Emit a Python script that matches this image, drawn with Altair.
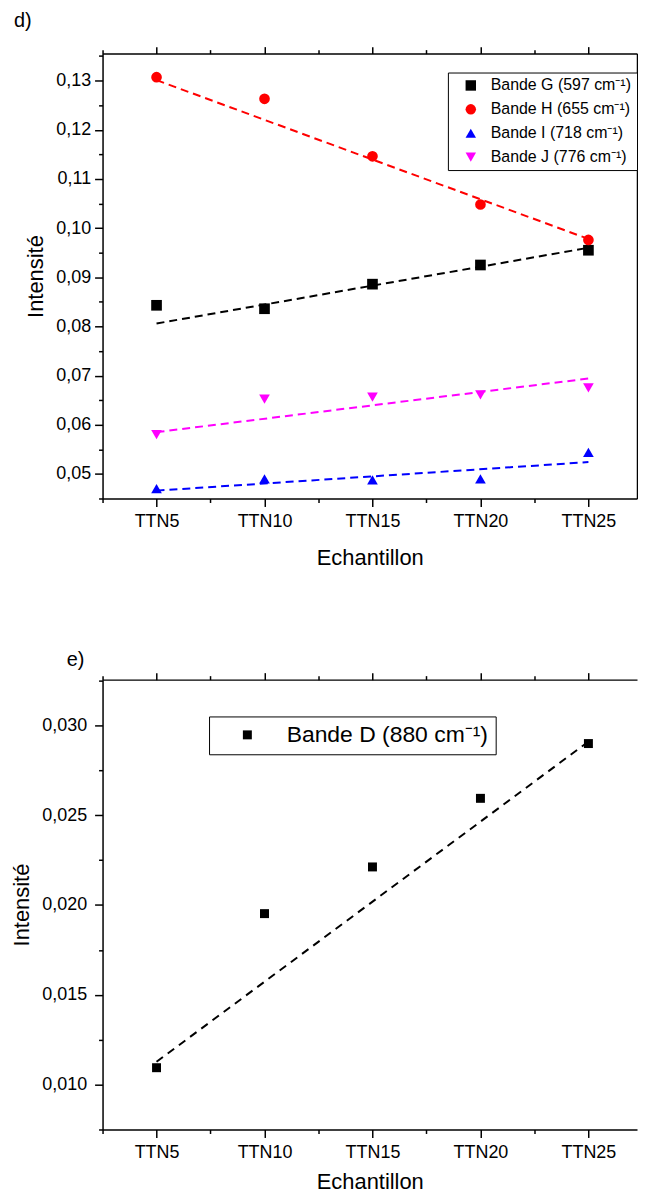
import altair as alt
import pandas as pd

# ---------------- data ----------------
samples = ["TTN5", "TTN10", "TTN15", "TTN20", "TTN25"]

series_top = ["Bande G (597 cm\u207b\u00b9)", "Bande H (655 cm\u207b\u00b9)",
              "Bande I (718 cm\u207b\u00b9)", "Bande J (776 cm\u207b\u00b9)"]
band_g = [0.0843, 0.0836, 0.0886, 0.0925, 0.0955]
band_h = [0.1307, 0.1263, 0.1146, 0.1048, 0.0976]
band_i = [0.0470, 0.0490, 0.0488, 0.0490, 0.0544]
band_j = [0.0580, 0.0652, 0.0656, 0.0661, 0.0675]
fit_top_start = [0.0806, 0.1301, 0.0466, 0.0585]
fit_top_end = [0.0960, 0.0978, 0.0524, 0.0694]

series_bottom = ["Bande D (880 cm\u207b\u00b9)"]
band_d = [0.01094, 0.01952, 0.02212, 0.02594, 0.02899]
fit_bottom_start = [0.01127]
fit_bottom_end = [0.0291]

colors_top = ["#000000", "#ff0000", "#0000ff", "#ff00ff"]
shapes_top = ["square", "circle", "triangle-up", "triangle-down"]

FONT = "Liberation Sans"

# ---------------- tables ----------------
xpos = list(range(1, len(samples) + 1))
top_vals = [band_g, band_h, band_i, band_j]
pts_top = pd.DataFrame([
    {"series": s, "x": xpos[i], "sample": samples[i], "y": vals[i]}
    for s, vals in zip(series_top, top_vals) for i in range(len(samples))
])
pts_bot = pd.DataFrame([
    {"series": series_bottom[0], "x": xpos[i], "sample": samples[i], "y": band_d[i]}
    for i in range(len(samples))
])


def fit_table(start, end):
    return pd.DataFrame([{"x": xpos[0], "y": start}, {"x": xpos[-1], "y": end}])


# ---------------- axes helpers ----------------
x_ticks = [0.5 + 0.5 * k for k in range(10)]
x_is_major = "datum.value % 1 == 0"
x_label_expr = ("datum.value % 1 == 0 ? " + str(["x"] + samples) + "[datum.value] : ''")
x_scale = alt.Scale(domain=[0.5, 5.45], nice=False, zero=False)


def tick_cond(test, major, minor):
    return {"condition": {"test": test, "value": major}, "value": minor}


def x_bottom_axis(title, label_pad, title_pad):
    return alt.Axis(values=x_ticks, labelExpr=x_label_expr, title=title,
                    tickSize=tick_cond(x_is_major, 8, 4), labelPadding=label_pad,
                    titlePadding=title_pad, orient="bottom", labelFlush=False)


def x_top_axis():
    return alt.Axis(values=x_ticks, labels=False, title=None, orient="top",
                    tickSize=tick_cond(x_is_major, 7, 4))


# ---- top chart (d) ----
y_top_ticks = [round(0.045 + 0.005 * k, 4) for k in range(19)]
y_top_major = "abs(datum.value*100 - round(datum.value*100)) < 0.000001"
y_top_scale = alt.Scale(domain=[0.045, 0.1355], nice=False, zero=False)

top_points = alt.Chart(pts_top).mark_point(filled=True, opacity=1, strokeWidth=0, size=115).encode(
    x=alt.X("x:Q", scale=x_scale, axis=x_bottom_axis("Echantillon", 6, 17)),
    y=alt.Y("y:Q", scale=y_top_scale,
            axis=alt.Axis(values=y_top_ticks, title="Intensité", orient="left",
                          labelExpr=y_top_major + " ? replace(format(datum.value, '.2f'), '.', ',') : ''",
                          tickSize=tick_cond(y_top_major, 8, 4), labelPadding=4,
                          titlePadding=8)),
    color=alt.Color("series:N", scale=alt.Scale(domain=series_top, range=colors_top),
                    legend=alt.Legend(title=None, orient="none", legendX=347, legendY=19,
                                      strokeColor="black", fillColor="white", padding=5,
                                      rowPadding=8, symbolSize=110, labelFontSize=16,
                                      labelFont=FONT, symbolOffset=10, labelOffset=12,
                                      symbolStrokeWidth=0, labelColor="black",
                                      labelLimit=400)),
    shape=alt.Shape("series:N", scale=alt.Scale(domain=series_top, range=shapes_top)),
)

top_line_layers = []
for k, (a, b, c) in enumerate(zip(fit_top_start, fit_top_end, colors_top)):
    first = k == 0
    top_line_layers.append(
        alt.Chart(fit_table(a, b)).mark_line(strokeDash=[8, 5], strokeWidth=2, color=c).encode(
            x=alt.X("x:Q", scale=x_scale, axis=x_top_axis() if first else None),
            y=alt.Y("y:Q", scale=y_top_scale,
                    axis=alt.Axis(values=y_top_ticks, labels=False, title=None, orient="right",
                                  tickSize=0) if first else None),
        )
    )

top = alt.layer(*top_line_layers, top_points).resolve_axis(
    x="independent", y="independent"
).properties(
    width=537, height=447,
    title=alt.TitleParams("d)", anchor="start", frame="group", dx=-89, fontSize=20,
                          font=FONT, fontWeight="normal", offset=15, color="black"),
)

# ---- bottom chart (e) ----
y_bot_ticks = [round(0.0075 + 0.0025 * k, 5) for k in range(11)]
y_bot_major = "abs(datum.value*200 - round(datum.value*200)) < 0.000001"
y_bot_scale = alt.Scale(domain=[0.0075, 0.03255], nice=False, zero=False)
y_bot_axis = alt.Axis(values=y_bot_ticks, title="Intensité", orient="left",
                      labelExpr=y_bot_major + " ? replace(format(datum.value, '.3f'), '.', ',') : ''",
                      tickSize=tick_cond(y_bot_major, 8, 4), labelPadding=8,
                      titlePadding=8)

bot_points = alt.Chart(pts_bot).mark_point(filled=True, opacity=1, strokeWidth=0, size=81).encode(
    x=alt.X("x:Q", scale=x_scale, axis=x_bottom_axis("Echantillon", 6, 10)),
    y=alt.Y("y:Q", scale=y_bot_scale, axis=y_bot_axis),
    color=alt.Color("series:N", scale=alt.Scale(domain=series_bottom, range=["#000000"]),
                    legend=alt.Legend(title=None, orient="none", legendX=107, legendY=37,
                                      strokeColor="black", fillColor="white", padding=7,
                                      symbolSize=81, labelFontSize=23, labelFont=FONT,
                                      symbolOffset=20, labelOffset=28, symbolStrokeWidth=0,
                                      labelColor="black", labelLimit=400)),
    shape=alt.Shape("series:N", scale=alt.Scale(domain=series_bottom, range=["square"])),
)

bot_lines = alt.Chart(fit_table(fit_bottom_start[0], fit_bottom_end[0])).mark_line(
    strokeDash=[8, 6], strokeWidth=2, color="black").encode(
    x=alt.X("x:Q", scale=x_scale, axis=x_top_axis()),
    y=alt.Y("y:Q", scale=y_bot_scale, axis=y_bot_axis),
)

bottom = alt.layer(bot_lines, bot_points).resolve_axis(x="independent").properties(
    width=537, height=452,
    title=alt.TitleParams("e)", anchor="start", frame="group", dx=-36, fontSize=20,
                          font=FONT, fontWeight="normal", offset=2, color="black"),
)

chart = alt.vconcat(top, bottom, spacing=82).resolve_scale(
    color="independent", shape="independent"
).resolve_legend(color="independent", shape="independent").properties(
    padding={"left": 2, "top": 0, "right": 0, "bottom": 0}
).configure_view(stroke=None).configure_axis(
    labelFont=FONT, titleFont=FONT, labelFontSize=18, titleFontSize=22,
    titleFontWeight="normal", labelColor="black", titleColor="black",
    domainColor="black", tickColor="black", domainWidth=1.5, tickWidth=1.5,
    grid=False,
)

chart.save("out.html", embed_options={"renderer": "svg", "actions": False})
